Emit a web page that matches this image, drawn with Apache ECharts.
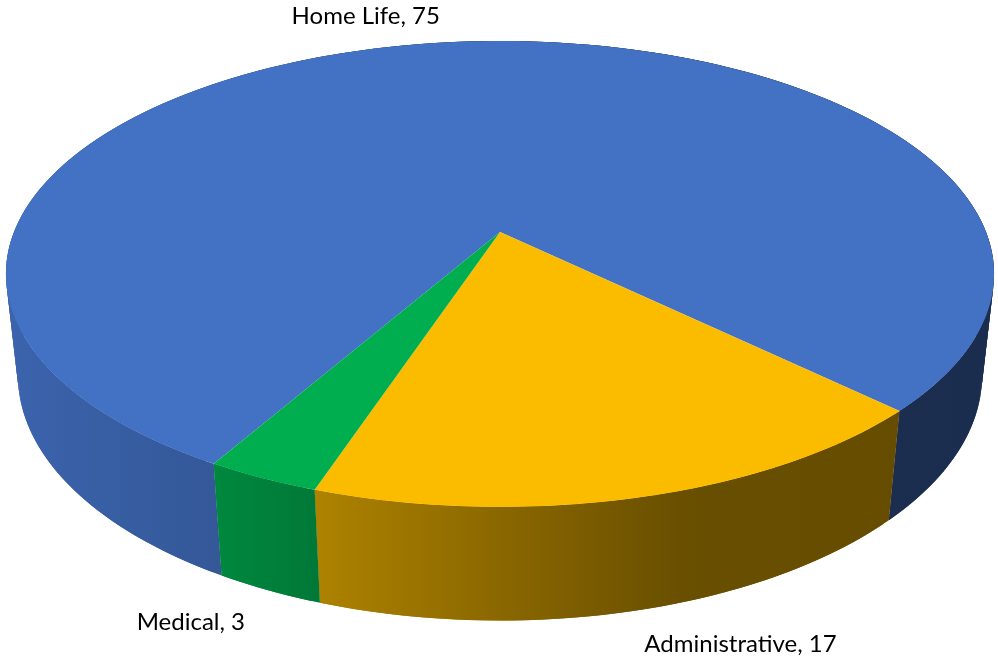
<!DOCTYPE html>
<html>
<head>
<meta charset="utf-8">
<style>html,body{margin:0;padding:0;background:#fff}#c{width:998px;height:658px}</style>
<script src="https://cdn.jsdelivr.net/npm/echarts@6/dist/echarts.min.js"></script>
</head>
<body>
<div id="c"></div>
<script>
const categories = ['Home Life', 'Administrative', 'Medical'];
const values = [75, 17, 3];
const colors = ['#4371C3', '#FBBC00', '#00AE4F'];
const startAngle = 209.8;

// projection of the tilted disc
const cx = 500, cy = 232, B = 486, A = 225.4, K = 0.18, DH = 0.024, DC = 102.5;
function project(theta, bottom) {
  const t = theta * Math.PI / 180, u = Math.sin(t), v = -Math.cos(t);
  const w = 1 - K * v + (bottom ? DH : 0);
  return [cx + B * u / w, cy + (A * v + (bottom ? DC : 0)) / w];
}
function arc(a0, a1, bottom) {
  const n = Math.max(2, Math.ceil(Math.abs(a1 - a0)));
  const pts = [];
  for (let i = 0; i <= n; i++) pts.push(project(a0 + (a1 - a0) * i / n, bottom));
  return pts;
}
const total = values.reduce((a, b) => a + b, 0);
const starts = [];
values.reduce((acc, v, i) => { starts[i] = acc; return acc + v; }, 0);
const angleOf = s => startAngle + s / total * 360;

// horizontal shading of the wall: [x in px, brightness]
const shadeX = [0, 20, 215, 320, 500, 680, 998];
const shadeL = [0.89, 0.88, 0.78, 0.69, 0.55, 0.42, 0.40];
function hex(c) { return [1, 3, 5].map(i => parseInt(c.substr(i, 2), 16)); }
function wallFill(color) {
  const rgb = hex(color);
  return {
    type: 'linear', x: 0, y: 0, x2: 998, y2: 0, global: true,
    colorStops: shadeX.map((x, i) => ({
      offset: x / 998,
      color: 'rgb(' + rgb.map(c => Math.round(c * shadeL[i])).join(',') + ')'
    }))
  };
}
const labelOffsets = [[-2, -26], [8, 34], [-24, 32]];
const labelAlign = ['right', 'left', 'right'];
const labelFont = '24px Lato, sans-serif';

const seriesData = categories.map((c, i) => [starts[i], values[i], i]);

const option = {
  animation: false,
  backgroundColor: '#fff',
  series: [
    {
      type: 'custom', coordinateSystem: 'none', silent: true, data: seriesData, z: 1,
      renderItem(params, api) {
        const i = api.value(2);
        const a0 = angleOf(api.value(0)), a1 = angleOf(api.value(0) + api.value(1));
        const top = arc(a0, a1, false), bot = arc(a0, a1, true);
        const fill = wallFill(colors[i]);
        const children = [];
        for (let k = 0; k < top.length - 1; k++) {
          const e = Math.min(k + 2, top.length - 1);
          children.push({
            type: 'polygon',
            shape: { points: [top[k], top[e], bot[e], bot[k]] },
            style: { fill: fill }
          });
        }
        return { type: 'group', children: children };
      }
    },
    {
      type: 'custom', coordinateSystem: 'none', silent: true, data: seriesData, z: 2,
      renderItem(params, api) {
        const i = api.value(2);
        const a0 = angleOf(api.value(0)), a1 = angleOf(api.value(0) + api.value(1));
        return {
          type: 'polygon',
          shape: { points: [[cx, cy]].concat(arc(a0, a1, false)) },
          style: { fill: colors[i] }
        };
      }
    },
    {
      type: 'custom', coordinateSystem: 'none', silent: true, data: seriesData, z: 3,
      renderItem(params, api) {
        const i = api.value(2);
        const mid = angleOf(api.value(0) + api.value(1) / 2);
        const front = Math.cos(mid * Math.PI / 180) < 0;
        const p = project(mid, front);
        return {
          type: 'text',
          x: p[0] + labelOffsets[i][0],
          y: p[1] + labelOffsets[i][1],
          style: {
            text: categories[i] + ', ' + api.value(1),
            fill: '#000',
            font: labelFont,
            align: labelAlign[i],
            verticalAlign: 'middle'
          }
        };
      }
    }
  ]
};
echarts.init(document.getElementById('c'), null, { renderer: 'canvas' }).setOption(option);
</script>
</body>
</html>
